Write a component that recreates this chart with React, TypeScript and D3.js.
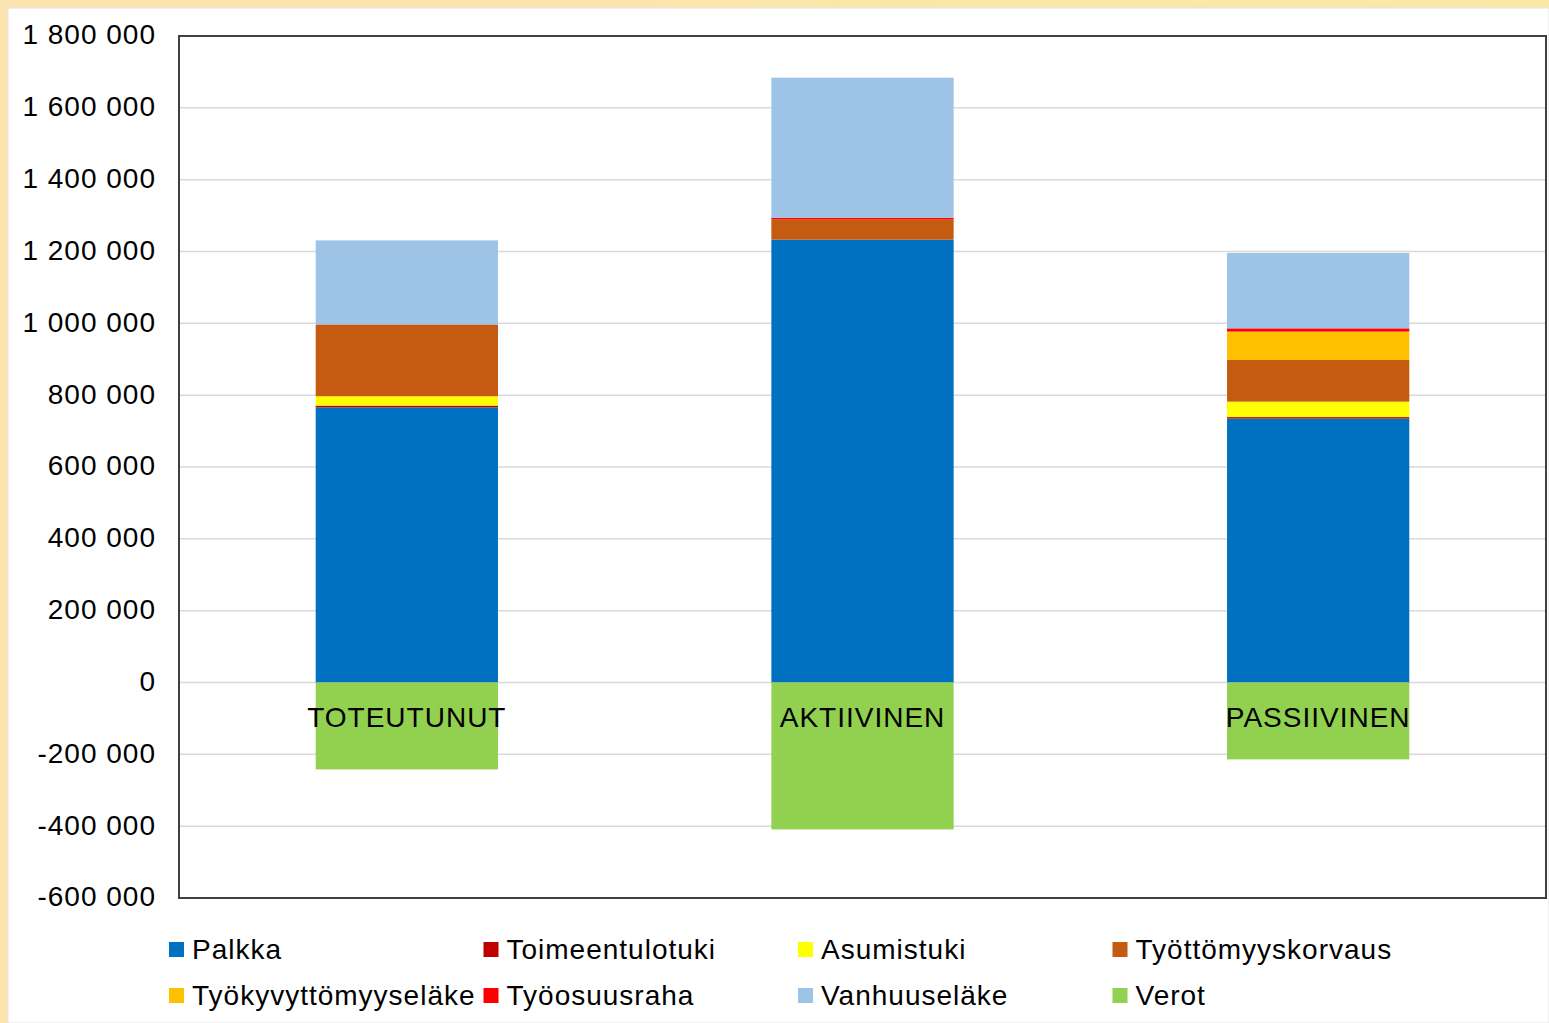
import React, { useEffect, useRef } from 'react';
import * as d3 from 'd3';

const categories = ['TOTEUTUNUT', 'AKTIIVINEN', 'PASSIIVINEN'];
const seriesNames = [
  'Palkka',
  'Toimeentulotuki',
  'Asumistuki',
  'Työttömyyskorvaus',
  'Työkyvyttömyyseläke',
  'Työosuusraha',
  'Vanhuuseläke',
  'Verot',
];
const seriesColors = ['#0070C0', '#C00000', '#FFFF00', '#C55A11', '#FFC000', '#FF0000', '#9DC3E6', '#92D050'];

// values per series, one per category
const palkka = [766000, 1233000, 735000];
const toimeentulotuki = [5000, 0, 4000];
const asumistuki = [26000, 0, 43000];
const tyottomyyskorvaus = [200000, 56000, 116000];
const tyokyvyttomyyselake = [0, 0, 79000];
const tyoosuusraha = [0, 5000, 9000];
const vanhuuselake = [234000, 390000, 210000];
const verot = [-242000, -409000, -214000];

const yTicks = [-600000, -400000, -200000, 0, 200000, 400000, 600000, 800000, 1000000, 1200000, 1400000, 1600000, 1800000];

const WIDTH = 1549;
const HEIGHT = 1023;

const Chart: React.FC = () => {
  const svgRef = useRef<SVGSVGElement>(null);

  useEffect(() => {
    if (!svgRef.current) return;
    const svg = d3.select(svgRef.current);
    svg.selectAll('*').remove();

    const font = '"Liberation Sans", Arial, sans-serif';
    const left = 179, right = 1546, top = 36, bottom = 898;

    // page background with a warm frame
    const defs = svg.append('defs');
    const grad = defs.append('linearGradient').attr('id', 'bgGrad').attr('x1', '0').attr('y1', '0').attr('x2', '1').attr('y2', '0');
    grad.append('stop').attr('offset', '0%').attr('stop-color', '#fbe3b0');
    grad.append('stop').attr('offset', '100%').attr('stop-color', '#fce9a6');
    svg.append('rect').attr('width', WIDTH).attr('height', HEIGHT).attr('fill', 'url(#bgGrad)');
    svg.append('rect').attr('x', 8).attr('y', 8).attr('width', WIDTH - 8).attr('height', HEIGHT - 8)
      .attr('fill', '#ffffff').attr('stroke', '#e2e2e2').attr('stroke-width', 1);

    const rows = categories.map((c, i) => ({
      category: c,
      Palkka: palkka[i],
      Toimeentulotuki: toimeentulotuki[i],
      Asumistuki: asumistuki[i],
      'Työttömyyskorvaus': tyottomyyskorvaus[i],
      'Työkyvyttömyyseläke': tyokyvyttomyyselake[i],
      'Työosuusraha': tyoosuusraha[i],
      'Vanhuuseläke': vanhuuselake[i],
      Verot: verot[i],
    }));

    const x = d3.scaleBand<string>().domain(categories).range([left, right]).paddingInner(0.6).paddingOuter(0.3);
    const y = d3.scaleLinear().domain([-600000, 1800000]).range([bottom, top]);

    const locale = d3.formatLocale({ decimal: ',', thousands: ' ', grouping: [3], currency: ['', ' €'], minus: '-' });
    const fmt = locale.format(',d');

    // gridlines
    svg.append('g').selectAll('line').data(yTicks).enter().append('line')
      .attr('x1', left).attr('x2', right)
      .attr('y1', d => y(d)).attr('y2', d => y(d))
      .attr('stroke', '#d9d9d9').attr('stroke-width', 1.5);

    // tick labels
    svg.append('g').selectAll('text').data(yTicks).enter().append('text')
      .attr('x', 156).attr('y', d => y(d)).attr('dy', '0.3em')
      .attr('text-anchor', 'end').attr('font-family', font).attr('font-size', 28)
      .attr('letter-spacing', 1).attr('fill', '#000')
      .text(d => fmt(d));

    const stack = d3.stack<any>().keys(seriesNames).offset(d3.stackOffsetDiverging);
    const layers = stack(rows);

    layers.forEach((layer, li) => {
      svg.append('g').selectAll('rect').data(layer).enter().append('rect')
        .attr('x', d => x(d.data.category) as number)
        .attr('width', x.bandwidth())
        .attr('y', d => y(Math.max(d[0], d[1])))
        .attr('height', d => Math.abs(y(d[0]) - y(d[1])))
        .attr('fill', seriesColors[li]);
    });

    // plot border
    svg.append('rect').attr('x', left).attr('y', top).attr('width', right - left).attr('height', bottom - top)
      .attr('fill', 'none').attr('stroke', '#404040').attr('stroke-width', 2);

    // category labels at the zero line
    svg.append('g').selectAll('text').data(categories).enter().append('text')
      .attr('x', d => (x(d) as number) + x.bandwidth() / 2).attr('y', 717).attr('dy', '0.36em')
      .attr('text-anchor', 'middle').attr('font-family', font).attr('font-size', 28)
      .attr('letter-spacing', 1).attr('fill', '#000')
      .text(d => d);

    // legend
    const legend = svg.append('g').selectAll('g').data(seriesNames).enter().append('g')
      .attr('transform', (d, i) => `translate(${169 + (i % 4) * 314.5}, ${949 + Math.floor(i / 4) * 46})`);
    legend.append('rect').attr('x', 0).attr('y', -7).attr('width', 15).attr('height', 15)
      .attr('fill', (d, i) => seriesColors[i]);
    legend.append('text').attr('x', 23).attr('y', 0).attr('dy', '0.36em')
      .attr('font-family', font).attr('font-size', 28).attr('letter-spacing', 1).attr('fill', '#000')
      .text(d => d);
  }, []);

  return <svg ref={svgRef} width={WIDTH} height={HEIGHT} style={{ position: 'absolute', left: 0, top: 0, display: 'block' }} />;
};

export default function App() {
  return <Chart />;
}
